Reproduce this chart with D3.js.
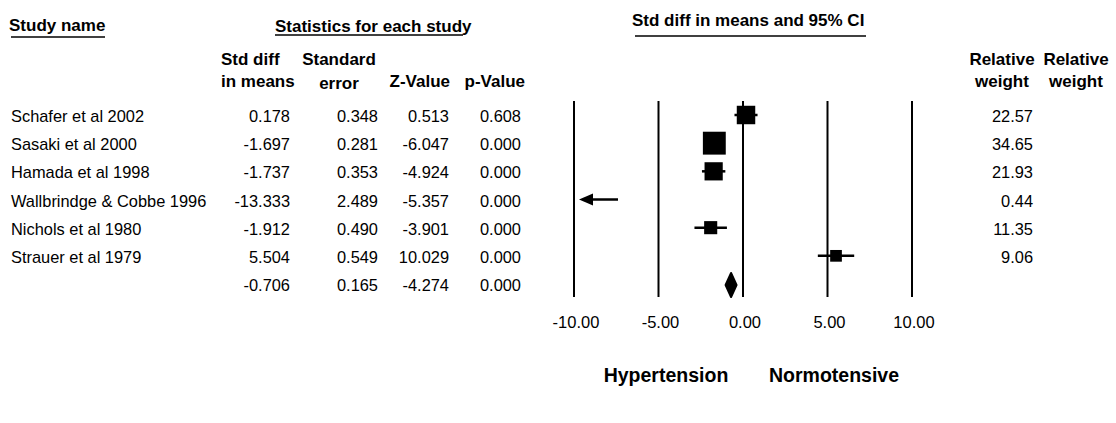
<!DOCTYPE html>
<html>
<head>
<meta charset="utf-8">
<script src="https://cdn.jsdelivr.net/npm/d3@7"></script>
<style>
  body { margin: 0; background: #fff; }
  svg { display: block; font-family: "Liberation Sans", Arial, sans-serif; }
  .hd { font-weight: bold; font-size: 17px; }
  .cell { font-size: 16.4px; }
</style>
</head>
<body>
<div id="chart"></div>
<script>
// studies and their statistics
var studies = ["Schafer et al 2002", "Sasaki et al 2000", "Hamada et al 1998",
  "Wallbrindge & Cobbe 1996", "Nichols et al 1980", "Strauer et al 1979"];
var stdDiff = [0.178, -1.697, -1.737, -13.333, -1.912, 5.504];
var stdErr = [0.348, 0.281, 0.353, 2.489, 0.490, 0.549];
var zValue = [0.513, -6.047, -4.924, -5.357, -3.901, 10.029];
var pValue = [0.608, 0.000, 0.000, 0.000, 0.000, 0.000];
var relWeight = [22.57, 34.65, 21.93, 0.44, 11.35, 9.06];
// pooled row: std diff, std err, z, p
var summaryRow = [-0.706, 0.165, -4.274, 0.000];
var tickValues = [-10, -5, 0, 5, 10];
var sideLabels = ["Hypertension", "Normotensive"];

var width = 1116, height = 423;
var svg = d3.select("#chart").append("svg")
  .attr("width", width).attr("height", height);

var xScale = d3.scaleLinear().domain([-10, 10]).range([574, 912]);
var rowY = d3.scaleLinear().domain([0, 6]).range([116, 285]);
var boxSize = d3.scaleSqrt().domain([0, 35]).range([0, 23]);
// plain hyphen as the minus sign, like the original output
var loc = d3.formatLocale({decimal: ".", thousands: ",", grouping: [3], currency: ["", ""], minus: "-"});
var f3 = loc.format(".3f"), f2 = loc.format(".2f");

// ---- headers
function underlined(txt, x, y, anchor, ux1, ux2, uy) {
  svg.append("text").attr("class", "hd").attr("x", x).attr("y", y)
    .attr("text-anchor", anchor).text(txt);
  svg.append("line").attr("x1", ux1).attr("x2", ux2).attr("y1", uy).attr("y2", uy)
    .style("stroke", "#000").style("stroke-width", "1.5px");
}
underlined("Study name", 9, 31, "start", 11, 105, 37);
underlined("Statistics for each study", 275, 32, "start", 275, 463, 35);
underlined("Std diff in means and 95% CI", 632, 26, "start", 635, 866, 36);

var colHeads = [
  {l1: "Std diff", l2: "in means", x: 221, a: "start"},
  {l1: "Standard", l2: "error", x: 339, a: "middle", dy2: 1.5},
  {l1: "", l2: "Z-Value", x: 450, a: "end"},
  {l1: "", l2: "p-Value", x: 525, a: "end"},
  {l1: "Relative", l2: "weight", x: 1002, a: "middle"},
  {l1: "Relative", l2: "weight", x: 1076, a: "middle"}
];
colHeads.forEach(function(h) {
  svg.append("text").attr("class", "hd").attr("x", h.x).attr("y", 65)
    .attr("text-anchor", h.a).text(h.l1);
  svg.append("text").attr("class", "hd").attr("x", h.x).attr("y", 87 + (h.dy2 || 0))
    .attr("text-anchor", h.a).text(h.l2);
});

// ---- table
var colRight = [290, 378, 449, 521];
studies.forEach(function(name, i) {
  var y = rowY(i) + 6;
  svg.append("text").attr("class", "cell").attr("x", 11).attr("y", y).text(name);
  [stdDiff[i], stdErr[i], zValue[i], pValue[i]].forEach(function(v, j) {
    svg.append("text").attr("class", "cell").attr("x", colRight[j]).attr("y", y)
      .attr("text-anchor", "end").text(f3(v));
  });
  svg.append("text").attr("class", "cell").attr("x", 1033).attr("y", y)
    .attr("text-anchor", "end").text(f2(relWeight[i]));
});
summaryRow.forEach(function(v, j) {
  svg.append("text").attr("class", "cell").attr("x", colRight[j]).attr("y", rowY(6) + 6)
    .attr("text-anchor", "end").text(f3(v));
});

// ---- forest plot
svg.selectAll(".ref").data(tickValues).enter().append("line")
  .attr("x1", function(d) { return xScale(d); })
  .attr("x2", function(d) { return xScale(d); })
  .attr("y1", 101).attr("y2", 297)
  .style("stroke", "#000").style("stroke-width", "2px");

svg.selectAll(".tick").data(tickValues).enter().append("text")
  .attr("class", "cell").style("font-size", "16.5px")
  .attr("x", function(d) { return xScale(d) + 2; }).attr("y", 328)
  .attr("text-anchor", "middle").text(function(d) { return f2(d); });

var dom = xScale.domain();
studies.forEach(function(name, i) {
  var y = rowY(i) - 1;
  var lo = stdDiff[i] - 1.96 * stdErr[i], hi = stdDiff[i] + 1.96 * stdErr[i];
  if (stdDiff[i] < dom[0]) {
    // off-scale study: arrow pointing left
    var x0 = xScale(dom[0]);
    svg.append("line").attr("x1", x0 + 16).attr("x2", x0 + 44).attr("y1", y).attr("y2", y)
      .style("stroke", "#000").style("stroke-width", "2.5px");
    svg.append("path")
      .attr("d", "M" + (x0 + 5) + "," + y + "L" + (x0 + 19) + "," + (y - 6) +
        "L" + (x0 + 19) + "," + (y + 6) + "Z")
      .style("fill", "#000");
    return;
  }
  svg.append("line").attr("x1", xScale(lo)).attr("x2", xScale(hi)).attr("y1", y).attr("y2", y)
    .style("stroke", "#000").style("stroke-width", "2.5px");
  var s = boxSize(relWeight[i]);
  svg.append("rect").attr("x", xScale(stdDiff[i]) - s / 2).attr("y", y - s / 2)
    .attr("width", s).attr("height", s).style("fill", "#000");
});

// pooled diamond
var sLo = summaryRow[0] - 1.96 * summaryRow[1], sHi = summaryRow[0] + 1.96 * summaryRow[1];
var dy = rowY(6);
svg.append("path")
  .attr("d", "M" + xScale(sLo) + "," + dy + "L" + xScale(summaryRow[0]) + "," + (dy - 12) +
    "L" + xScale(sHi) + "," + dy + "L" + xScale(summaryRow[0]) + "," + (dy + 12) + "Z")
  .style("fill", "#000").style("stroke", "#000").style("stroke-width", "2px")
  .style("stroke-linejoin", "round");

// favours labels
svg.append("text").attr("class", "hd").style("font-size", "19.5px")
  .attr("x", xScale(0) - 77).attr("y", 382).attr("text-anchor", "middle").text(sideLabels[0]);
svg.append("text").attr("class", "hd").style("font-size", "19.5px")
  .attr("x", xScale(0) + 91).attr("y", 382).attr("text-anchor", "middle").text(sideLabels[1]);
</script>
</body>
</html>
